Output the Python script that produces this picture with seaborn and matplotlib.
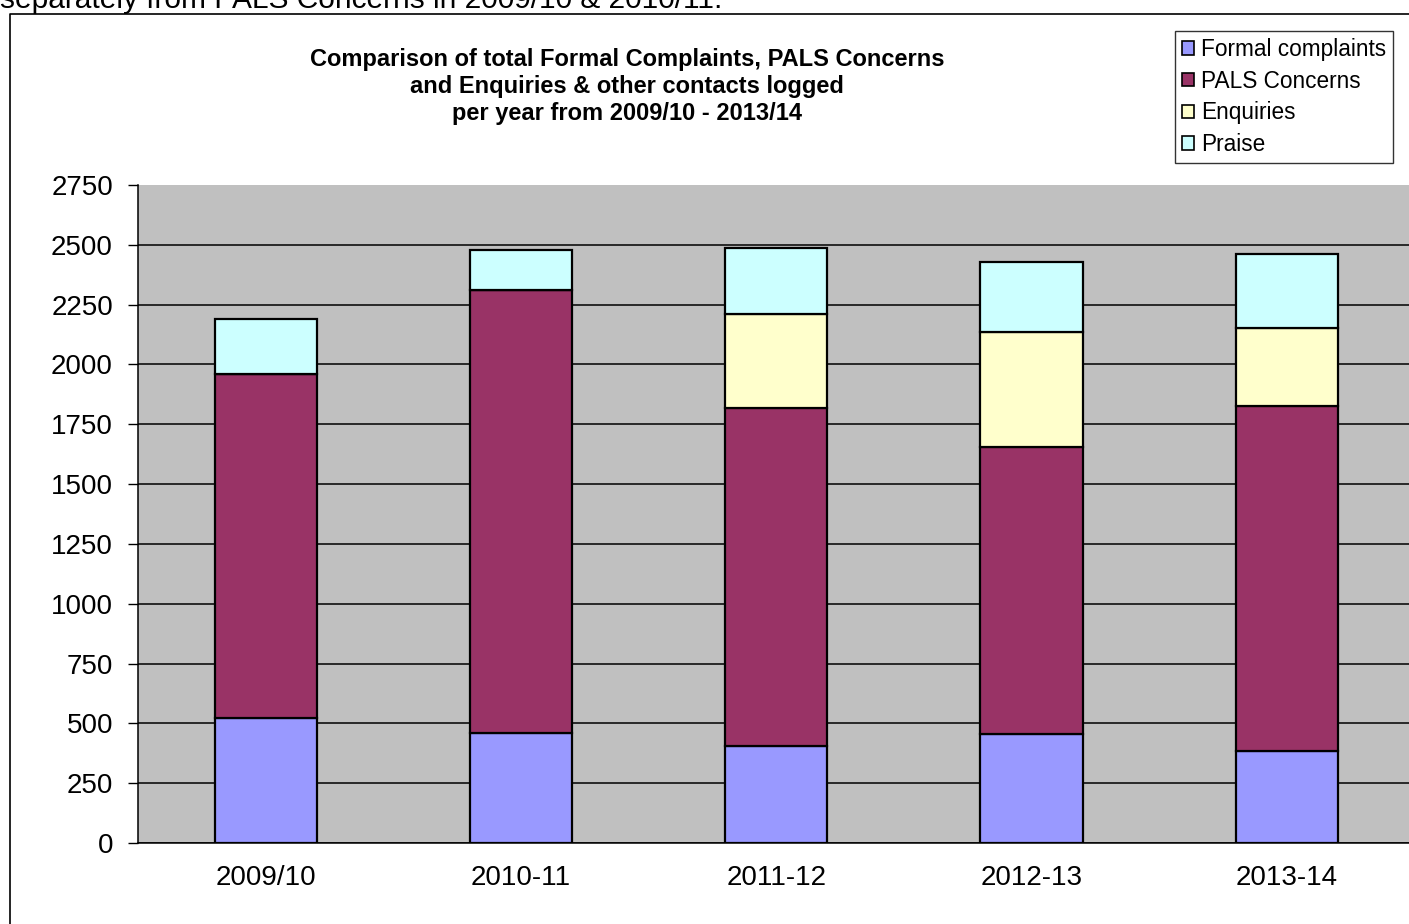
import matplotlib
matplotlib.use("Agg")
import matplotlib.pyplot as plt
from matplotlib.patches import Patch
from matplotlib.lines import Line2D
import seaborn as sns
import pandas as pd
import numpy as np

# Contacts logged per year, by type
years = ["2009/10", "2010-11", "2011-12", "2012-13", "2013-14"]
formal_complaints = [524, 460, 405, 456, 385]
pals_concerns = [1436, 1851, 1414, 1200, 1440]
enquiries = [0, 0, 393, 481, 328]
praise = [230, 167, 275, 292, 308]

series_names = ["Formal complaints", "PALS Concerns", "Enquiries", "Praise"]
series_colors = ["#9999FF", "#993366", "#FFFFCC", "#CCFFFF"]

sns.set_theme(style="white")
plt.rcParams["font.family"] = ["Liberation Sans", "DejaVu Sans"]
plt.rcParams["text.color"] = "black"
plt.rcParams["xtick.color"] = "black"
plt.rcParams["ytick.color"] = "black"

fig = plt.figure(figsize=(14.09, 9.24), dpi=100)
W, H = 1409, 924
ax = fig.add_axes([138 / W, (H - 843) / H, 1276.5 / W, 658 / H])
ax.set_facecolor("#C0C0C0")

df = pd.DataFrame({
    "year": years,
    "Formal complaints": formal_complaints,
    "PALS Concerns": pals_concerns,
    "Enquiries": enquiries,
    "Praise": praise,
})

bottom = np.zeros(len(years))
for name, color in zip(series_names, series_colors):
    sns.barplot(data=df, x="year", y=name, order=years, color=color,
                saturation=1, width=0.4, errorbar=None, bottom=bottom,
                edgecolor="black", linewidth=1.6, ax=ax, zorder=3)
    bottom = bottom + df[name].to_numpy()

ax.set_xlim(-0.5, len(years) - 0.5)
ax.set_ylim(0, 2750)
ax.set_yticks(np.arange(0, 2751, 250))
ax.yaxis.grid(True, color="black", linewidth=1.1, zorder=0)
ax.xaxis.grid(False)
ax.set_axisbelow(True)
# no rule along the top edge of the plot area
ax.get_ygridlines()[-1].set_visible(False)
ax.set_xlabel("")
ax.set_ylabel("")

ax.set_xticks(range(len(years)))
ax.set_xticklabels(years)
ax.set_xticks(np.arange(-0.5, len(years), 1.0), minor=True)
ax.tick_params(axis="x", which="major", length=0, pad=16, labelsize=20)
ax.tick_params(axis="x", which="minor", length=7, width=1, direction="out")
ax.tick_params(axis="y", length=7, width=1, direction="out",
               pad=11, labelsize=20, left=True)

for side in ["top", "right"]:
    ax.spines[side].set_visible(False)
for side in ["left", "bottom"]:
    ax.spines[side].set_visible(True)
    ax.spines[side].set_color("black")
    ax.spines[side].set_linewidth(1.1)

# Chart title
fig.text(627 / W, 1 - 48 / H,
         "Comparison of total Formal Complaints, PALS Concerns\n"
         "and Enquiries & other contacts logged\n"
         "per year from 2009/10 - 2013/14",
         ha="center", va="top", fontsize=17, fontweight="bold",
         linespacing=1.22)

# Legend
handles = [Patch(facecolor=c, edgecolor="black", linewidth=1.2) for c in series_colors]
leg = fig.legend(handles, series_names, loc="upper left",
                 bbox_to_anchor=(1175 / W, 1 - 31 / H),
                 fontsize=16.3, frameon=True, fancybox=False, shadow=False,
                 handlelength=0.55, handleheight=0.55, handletextpad=0.3,
                 labelspacing=0.39, borderpad=0.3, borderaxespad=0)
leg.get_frame().set_edgecolor("black")
leg.get_frame().set_linewidth(1.0)
leg.get_frame().set_facecolor("white")

# Outer chart frame
fig.add_artist(Line2D([10 / W, 10 / W, 1.0], [0.0, 1 - 14 / H, 1 - 14 / H],
                      transform=fig.transFigure, color="black", linewidth=1.2))

# Running text above the chart
fig.text(0.0, 1 - 8 / H, "separately from PALS Concerns in 2009/10 & 2010/11.",
         ha="left", va="baseline", fontsize=21.5)

fig.savefig("out.png", dpi=100, facecolor="white")
